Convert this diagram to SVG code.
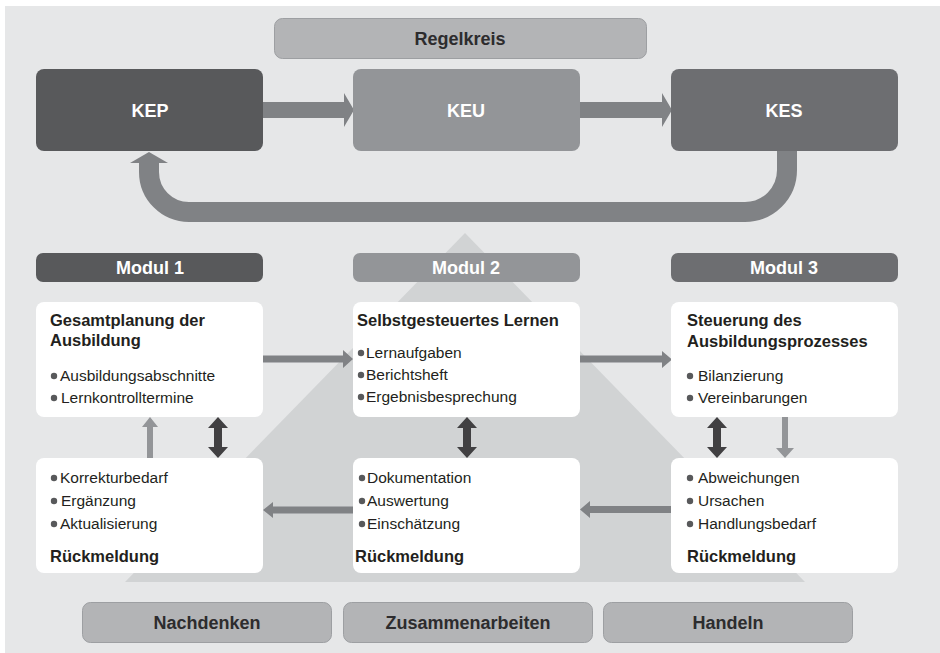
<svg xmlns="http://www.w3.org/2000/svg" width="940" height="653" viewBox="0 0 940 653">
  <defs>
    <style>
      .bold { font-family: "Liberation Sans", Arial, sans-serif; font-weight: bold; }
      .reg { font-family: "Liberation Sans", Arial, sans-serif; }
      .kbox-t { font-size: 18px; fill: #ffffff; text-anchor: middle; }
      .mod-t { font-size: 18px; fill: #ffffff; text-anchor: middle; }
      .title { font-size: 16.5px; fill: #231f20; }
      .item { font-size: 15.5px; fill: #231f20; }
      .card { fill: #ffffff; }
      .pill { fill: #b3b4b6; stroke: #9d9fa2; stroke-width: 1; }
      .pill-t { font-size: 18px; fill: #2d2c2e; text-anchor: middle; }
      .dot { fill: #58595b; }
      .flow { fill: #808285; }
      .flow-lt { fill: #939598; }
      .dbl { fill: #414042; }
    </style>
  </defs>

  <!-- backdrop -->
  <rect x="5" y="6" width="935" height="647" fill="#e6e7e8"/>
  <polygon points="465,233 125,582 805,582" fill="#d1d3d4"/>

  <!-- control loop -->
  <g id="regelkreis">
    <rect class="pill" x="274.5" y="18.5" width="372" height="40" rx="8"/>
    <text class="bold pill-t" x="460" y="45">Regelkreis</text>
  </g>

  <g id="connectors">
    <!-- loop arrows -->
    <polygon class="flow" points="263,102 344,102 344,93 354,110 344,127 344,118 263,118"/>
    <polygon class="flow" points="580,102 662,102 662,93 672,110 662,127 662,118 580,118"/>
    <path d="M787,151 V170 A42,42 0 0 1 745,212 H189 A40,40 0 0 1 149,172 V162" fill="none" stroke="#808285" stroke-width="20"/>
    <polygon class="flow" points="130,163 168,163 149,152"/>

    <!-- upper row -->
    <polygon class="flow" points="263,355.5 343,355.5 343,350 353,359 343,368 343,362.5 263,362.5"/>
    <polygon class="flow" points="580,355.5 662,355.5 662,351 672,359.5 662,368 662,362.5 580,362.5"/>
    <!-- lower row -->
    <polygon class="flow" points="353,506.5 273,506.5 273,502 263,510 273,518 273,513.5 353,513.5"/>
    <polygon class="flow" points="671,506 590,506 590,501 580,509.5 590,518 590,513 671,513"/>

    <!-- verticals, module 1 -->
    <polygon class="flow-lt" points="147,458 147,427 142,427 150,417 158,427 153,427 153,458"/>
    <polygon class="dbl" points="218,417 228,428 222,428 222,447 228,447 218,458 208,447 214,447 214,428 208,428"/>
    <!-- module 2 -->
    <polygon class="dbl" points="467,417 477,428 471,428 471,447 477,447 467,458 457,447 463,447 463,428 457,428"/>
    <!-- module 3 -->
    <polygon class="dbl" points="717,417 727,428 721,428 721,447 727,447 717,458 707,447 713,447 713,428 707,428"/>
    <polygon class="flow-lt" points="782,417 782,448 776,448 785,458 794,448 788,448 788,417"/>
  </g>

  <!-- loop stages -->
  <g id="kep">
    <rect x="36" y="69" width="227" height="82" rx="8" fill="#58595b"/>
    <text class="bold kbox-t" x="150" y="117">KEP</text>
  </g>
  <g id="keu">
    <rect x="353" y="69" width="227" height="82" rx="8" fill="#939598"/>
    <text class="bold kbox-t" x="466" y="117">KEU</text>
  </g>
  <g id="kes">
    <rect x="671" y="69" width="227" height="82" rx="8" fill="#6d6e71"/>
    <text class="bold kbox-t" x="784" y="117">KES</text>
  </g>

  <!-- module headers -->
  <g id="modul1">
    <rect x="36" y="253" width="227" height="29" rx="7" fill="#58595b"/>
    <text class="bold mod-t" x="150" y="274">Modul 1</text>
  </g>
  <g id="modul2">
    <rect x="353" y="253" width="227" height="29" rx="7" fill="#939598"/>
    <text class="bold mod-t" x="466" y="274">Modul 2</text>
  </g>
  <g id="modul3">
    <rect x="671" y="253" width="227" height="29" rx="7" fill="#6d6e71"/>
    <text class="bold mod-t" x="784" y="274">Modul 3</text>
  </g>

  <!-- module 1 cards -->
  <g id="m1-plan">
    <rect class="card" x="36" y="302" width="227" height="115" rx="8"/>
    <text class="bold title" x="50" y="326">Gesamtplanung der</text>
    <text class="bold title" x="50" y="346">Ausbildung</text>
    <circle class="dot" cx="54" cy="376" r="3.2"/>
    <text class="reg item" x="60" y="381">Ausbildungsabschnitte</text>
    <circle class="dot" cx="54" cy="398" r="3.2"/>
    <text class="reg item" x="61" y="403">Lernkontrolltermine</text>
  </g>
  <g id="m1-feedback">
    <rect class="card" x="36" y="458" width="227" height="115" rx="8"/>
    <circle class="dot" cx="54" cy="478" r="3.2"/>
    <text class="reg item" x="60" y="483">Korrekturbedarf</text>
    <circle class="dot" cx="54" cy="501" r="3.2"/>
    <text class="reg item" x="61" y="506">Ergänzung</text>
    <circle class="dot" cx="54" cy="524" r="3.2"/>
    <text class="reg item" x="60" y="529">Aktualisierung</text>
    <text class="bold title" x="50" y="562">Rückmeldung</text>
  </g>

  <!-- module 2 cards -->
  <g id="m2-learn">
    <rect class="card" x="353" y="302" width="227" height="115" rx="8"/>
    <text class="bold title" x="357" y="326">Selbstgesteuertes Lernen</text>
    <circle class="dot" cx="361" cy="353" r="3.2"/>
    <text class="reg item" x="366" y="358">Lernaufgaben</text>
    <circle class="dot" cx="361" cy="375" r="3.2"/>
    <text class="reg item" x="366" y="380">Berichtsheft</text>
    <circle class="dot" cx="361" cy="397" r="3.2"/>
    <text class="reg item" x="366" y="402">Ergebnisbesprechung</text>
  </g>
  <g id="m2-feedback">
    <rect class="card" x="353" y="458" width="227" height="115" rx="8"/>
    <circle class="dot" cx="362" cy="478" r="3.2"/>
    <text class="reg item" x="367" y="483">Dokumentation</text>
    <circle class="dot" cx="362" cy="501" r="3.2"/>
    <text class="reg item" x="367" y="506">Auswertung</text>
    <circle class="dot" cx="362" cy="524" r="3.2"/>
    <text class="reg item" x="367" y="529">Einschätzung</text>
    <text class="bold title" x="355" y="562">Rückmeldung</text>
  </g>

  <!-- module 3 cards -->
  <g id="m3-steer">
    <rect class="card" x="671" y="302" width="227" height="115" rx="8"/>
    <text class="bold title" x="687" y="326">Steuerung des</text>
    <text class="bold title" x="687" y="347">Ausbildungsprozesses</text>
    <circle class="dot" cx="690" cy="376" r="3.2"/>
    <text class="reg item" x="698" y="381">Bilanzierung</text>
    <circle class="dot" cx="690" cy="398" r="3.2"/>
    <text class="reg item" x="698" y="403">Vereinbarungen</text>
  </g>
  <g id="m3-feedback">
    <rect class="card" x="671" y="458" width="227" height="115" rx="8"/>
    <circle class="dot" cx="690" cy="478" r="3.2"/>
    <text class="reg item" x="698" y="483">Abweichungen</text>
    <circle class="dot" cx="690" cy="501" r="3.2"/>
    <text class="reg item" x="698" y="506">Ursachen</text>
    <circle class="dot" cx="690" cy="524" r="3.2"/>
    <text class="reg item" x="698" y="529">Handlungsbedarf</text>
    <text class="bold title" x="687" y="562">Rückmeldung</text>
  </g>

  <!-- bottom pillars -->
  <g id="nachdenken">
    <rect class="pill" x="82.5" y="602.5" width="249" height="40" rx="8"/>
    <text class="bold pill-t" x="207" y="629">Nachdenken</text>
  </g>
  <g id="zusammenarbeiten">
    <rect class="pill" x="343.5" y="602.5" width="249" height="40" rx="8"/>
    <text class="bold pill-t" x="468" y="629">Zusammenarbeiten</text>
  </g>
  <g id="handeln">
    <rect class="pill" x="603.5" y="602.5" width="249" height="40" rx="8"/>
    <text class="bold pill-t" x="728" y="629">Handeln</text>
  </g>
</svg>
